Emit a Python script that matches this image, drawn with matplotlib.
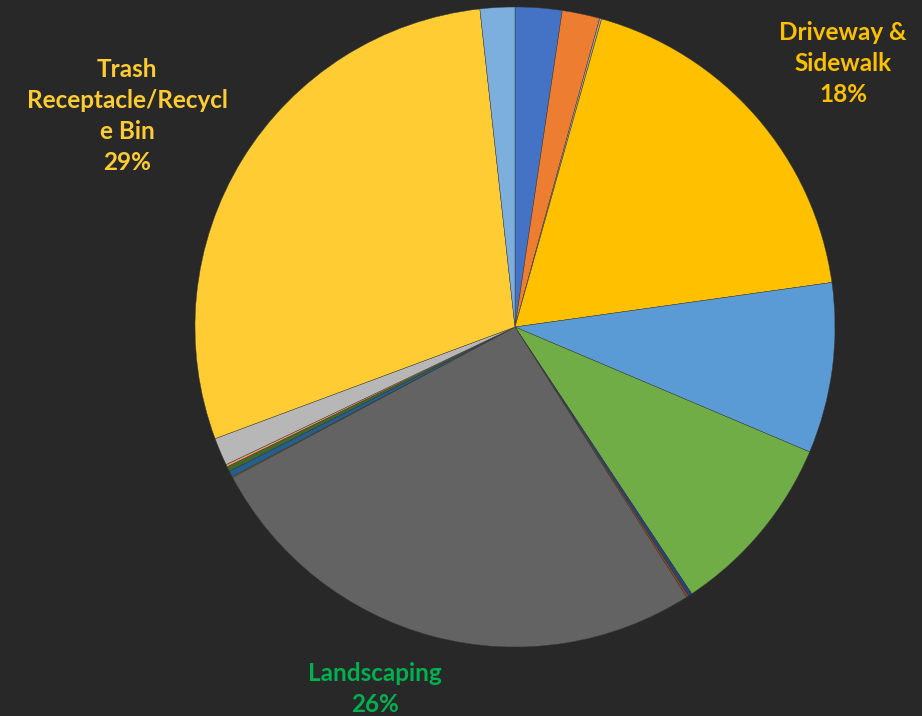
import matplotlib
matplotlib.use('Agg')
import matplotlib.pyplot as plt

# share of requests per category (percent), clockwise from 12 o'clock
categories = ['Other A', 'Other B', 'Other C', 'Driveway & Sidewalk', 'Other D', 'Other E',
              'Other F', 'Other G', 'Landscaping', 'Other H', 'Other I', 'Other J',
              'Other K', 'Other L', 'Trash Receptacle/Recycle Bin', 'Other M']
values = [2.36, 1.9, 0.1, 18.4, 8.6, 9.3, 0.2, 0.1, 26.2, 0.05, 0.3, 0.25, 0.12, 1.4, 28.9, 1.75]
colors = ['#4472C4', '#ED7D31', '#A5A5A5', '#FFC000', '#5B9BD5', '#70AD47',
          '#264478', '#9E480E', '#636363', '#997300', '#255E91', '#43682B',
          '#F1975A', '#B7B7B7', '#FFCD33', '#7CAFDD']

# labels shown on the chart
shown = {
    'Driveway & Sidewalk': ('Driveway &\nSidewalk\n18%', '#FFC000', (1.025, 0.822)),
    'Trash Receptacle/Recycle Bin': ('Trash\nReceptacle/Recycl\ne Bin\n29%', '#FFCD33', (-1.2125, 0.66)),
    'Landscaping': ('Landscaping\n26%', '#00B050', (-0.4375, -1.13)),
}

bg = '#282828'
fig = plt.figure(figsize=(9.22, 7.16), dpi=100, facecolor=bg)
ax = fig.add_axes([(515 - 320) / 922, (716 - 327 - 320) / 716, 640 / 922, 640 / 716])
ax.set_facecolor(bg)

ax.pie(values, colors=colors, startangle=90, counterclock=False, radius=1,
       wedgeprops=dict(linewidth=0.3, edgecolor='#3a3a3a'))
ax.set_xlim(-1, 1)
ax.set_ylim(-1, 1)
ax.set_aspect('equal')
ax.axis('off')

for name, (txt, col, (x, y)) in shown.items():
    ax.text(x, y, txt, color=col, fontsize=17.5, fontweight='bold', family=['Lato', 'DejaVu Sans'],
            ha='center', va='center', linespacing=1.42, clip_on=False)

fig.savefig('out.png', dpi=100, facecolor=bg)
